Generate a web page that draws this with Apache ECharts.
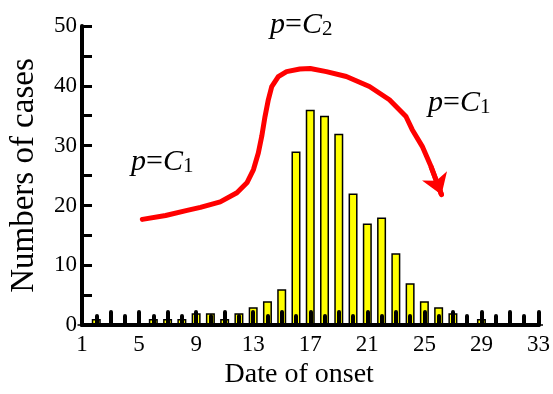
<!DOCTYPE html>
<html><head><meta charset="utf-8">
<script src="https://cdn.jsdelivr.net/npm/echarts@6/dist/echarts.min.js"></script>
<style>html,body{margin:0;padding:0;background:#fff}#c{width:553px;height:394px}</style>
</head><body><div id="c"></div>
<script>
// Days of onset (category axis)
const days = [];
for (let d = 1; d <= 33; d++) days.push(String(d));
// Numbers of cases per day (days 1..33)
const cases = [0, 1, 0, 0, 0, 1, 1, 1, 2, 2, 1, 2, 3, 4, 6, 29, 36, 35, 32, 22, 17, 18, 12, 7, 4, 3, 2, 0, 1, 0, 0, 0, 0];
// Red hand-drawn arrow path (x = day, y = cases)
const arrowX = [5.23, 6.86, 8.37, 9.30, 10.69, 11.86, 12.56, 13.02, 13.36, 13.60, 13.83, 14.06, 14.30, 14.76, 15.34, 16.27, 17.0, 18.13, 19.53, 21.15, 22.55, 23.71, 24.15, 24.85, 25.46, 26.2];
const arrowY = [17.67, 18.33, 19.17, 19.67, 20.6, 22.12, 23.78, 26.0, 28.78, 31.55, 34.88, 37.67, 39.88, 41.55, 42.38, 42.8, 42.9, 42.38, 41.55, 39.88, 37.67, 34.88, 32.67, 29.88, 26.55, 21.8];
// Annotations
const labels = [
  {sub: '1', x: 131, y: 162},
  {sub: '2', x: 270, y: 25},
  {sub: '1', x: 428, y: 103}
];

const serif = 'Liberation Serif';
const arrowPts = arrowX.map((x, i) => [x, arrowY[i]]);
const n = arrowPts.length;

const chart = echarts.init(document.getElementById('c'), null, {renderer: 'canvas'});
chart.setOption({
  animation: false,
  backgroundColor: '#fff',
  grid: {left: 81, right: 13, top: 26, bottom: 68, containLabel: false},
  xAxis: [
    {
      type: 'category', data: days, boundaryGap: false, position: 'bottom', z: 5,
      axisLine: {show: true, lineStyle: {color: '#000', width: 4}},
      axisTick: {show: true, inside: true, interval: 0, length: 9, lineStyle: {color: '#000', width: 4, cap: 'round'}},
      axisLabel: {interval: 3, color: '#000', fontFamily: serif, fontSize: 23, margin: 8},
      splitLine: {show: false},
      name: 'Date of onset', nameLocation: 'middle', nameGap: 34,
      nameTextStyle: {color: '#000', fontFamily: serif, fontSize: 28, padding: [0, 22, 0, 0]}
    },
    {
      type: 'category', data: days, boundaryGap: false, position: 'bottom', z: 5,
      axisLine: {show: false},
      axisTick: {show: true, inside: true, interval: 1, length: 13, lineStyle: {color: '#000', width: 4, cap: 'round'}},
      axisLabel: {show: false}, splitLine: {show: false}
    },
    {type: 'value', min: 1, max: 33, show: false}
  ],
  yAxis: {
    type: 'value', min: 0, max: 50, interval: 5, z: 5,
    axisLine: {show: true, lineStyle: {color: '#000', width: 4}},
    axisTick: {show: true, inside: true, length: 10, lineStyle: {color: '#000', width: 3}},
    axisLabel: {color: '#000', fontFamily: serif, fontSize: 23, margin: 5,
      formatter: v => (v % 10 === 0 ? String(v) : '')},
    splitLine: {show: false},
    name: 'Numbers of cases', nameLocation: 'middle', nameGap: 41, nameRotate: 90,
    nameTextStyle: {color: '#000', fontFamily: serif, fontSize: 33}
  },
  series: [
    {
      type: 'bar', data: cases, xAxisIndex: 0, yAxisIndex: 0, barWidth: 9, z: 2,
      itemStyle: {color: '#ffff00', borderColor: '#000', borderWidth: 1.5}
    },
    {
      type: 'lines', coordinateSystem: 'cartesian2d', xAxisIndex: 2, yAxisIndex: 0, polyline: true, z: 10,
      lineStyle: {color: '#ff0000', width: 5, opacity: 1, join: 'round', cap: 'round'},
      data: [{coords: arrowPts}]
    },
    {
      type: 'lines', coordinateSystem: 'cartesian2d', xAxisIndex: 2, yAxisIndex: 0, z: 10,
      symbol: ['none', 'arrow'], symbolSize: 20,
      lineStyle: {color: '#ff0000', width: 5, opacity: 1, curveness: 0},
      data: [{coords: [arrowPts[n - 2], arrowPts[n - 1]]}]
    }
  ],
  graphic: labels.map(l => ({
    type: 'text', x: l.x, y: l.y, z: 20,
    style: {
      text: '{i|p}{n|=}{i|C}{s|' + l.sub + '}',
      textVerticalAlign: 'middle',
      rich: {
        i: {fontFamily: serif, fontStyle: 'italic', fontSize: 30, fill: '#000', verticalAlign: 'bottom'},
        n: {fontFamily: serif, fontSize: 30, fill: '#000', verticalAlign: 'bottom'},
        s: {fontFamily: serif, fontSize: 21, fill: '#000', verticalAlign: 'bottom'}
      }
    }
  }))
});
</script></body></html>
